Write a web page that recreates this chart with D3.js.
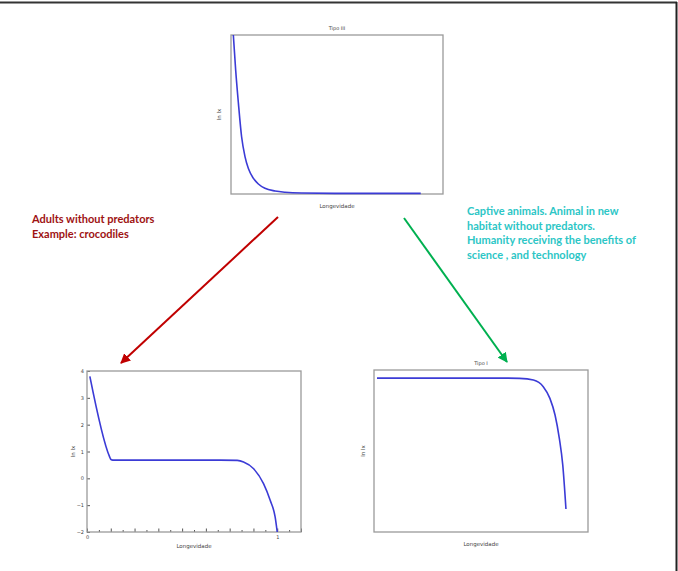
<!DOCTYPE html>
<html>
<head>
<meta charset="utf-8">
<script src="https://cdn.jsdelivr.net/npm/d3@7"></script>
<style>
  body { margin: 0; background: #fff; }
  svg { display: block; }
  .small { font-family: "DejaVu Sans", sans-serif; fill: #444; }
  .note { font-family: Lato, "Open Sans", sans-serif; font-weight: bold; }
</style>
</head>
<body>
<svg width="678" height="571"></svg>
<script>
// Tipo III (top)
var tipo3X = [0.011, 0.022, 0.035, 0.050, 0.066, 0.082, 0.105, 0.129, 0.160, 0.208, 0.255, 0.333, 0.553, 0.895];
var tipo3Y = [1.0, 0.78, 0.57, 0.36, 0.235, 0.16, 0.10, 0.063, 0.036, 0.019, 0.011, 0.006, 0.004, 0.004];

// bottom left, ln lx against longevidade
var tipo2X = [0.015, 0.118, 0.126, 0.135, 0.3, 0.5, 0.7, 0.79, 0.823, 0.876, 0.928, 0.963, 0.989, 1.0];
var tipo2Y = [3.8, 0.82, 0.7, 0.68, 0.68, 0.68, 0.68, 0.67, 0.61, 0.36, -0.2, -0.82, -1.44, -2.0];
var tipo2YTicks = [4, 3, 2, 1, 0, -1, -2];
var tipo2XLabels = [0, 1];

// Tipo I (bottom right)
var tipo1X = [0.014, 0.3, 0.6, 0.68, 0.745, 0.791, 0.822, 0.846, 0.866, 0.882, 0.897];
var tipo1Y = [0.95, 0.95, 0.95, 0.948, 0.938, 0.897, 0.825, 0.722, 0.578, 0.414, 0.142];

var redLines = ["Adults without predators", "Example: crocodiles"];
var cyanLines = ["Captive animals. Animal in new", "habitat without predators.",
                 "Humanity receiving the benefits of", "science , and technology"];

var svg = d3.select("svg");

// page frame (only top and right edges show)
svg.append("line").attr("x1", 0).attr("x2", 677).attr("y1", 2.5).attr("y2", 2.5)
   .attr("stroke", "#333").attr("stroke-width", 2);
svg.append("line").attr("x1", 676.5).attr("x2", 676.5).attr("y1", 2).attr("y2", 571)
   .attr("stroke", "#222").attr("stroke-width", 2);

var lineColor = "#3b3bd6";

function panel(box, xs, ys, xDom, yDom, opts) {
  var x = d3.scaleLinear().domain(xDom).range([box.x0, box.x1]);
  var y = d3.scaleLinear().domain(yDom).range([box.y1, box.y0]);
  var g = svg.append("g");

  if (opts.ticks) {
    // bottom axis with minor ticks, longer every 1/8
    var xt = d3.range(0, 19).map(function(i) { return i / 16; });
    g.append("g").attr("transform", "translate(0," + box.y1 + ")")
      .call(d3.axisBottom(x).tickValues(xt).tickSize(-2.5)
        .tickFormat(function(d) { return tipo2XLabels.indexOf(d) >= 0 ? d3.format("d")(d) : ""; }))
      .call(function(a) {
        a.select(".domain").remove();
        a.selectAll("line").attr("stroke", "#555")
          .attr("y2", function(d) { return Math.round(d * 16) % 2 === 0 ? -3.5 : -2; });
        a.selectAll("text").attr("class", "small").attr("font-size", 5).attr("fill", "#444");
      });
    g.append("g").attr("transform", "translate(" + box.x0 + ",0)")
      .call(d3.axisLeft(y).tickValues(tipo2YTicks).tickSize(-3).tickFormat(d3.format("d")))
      .call(function(a) {
        a.select(".domain").remove();
        a.selectAll("line").attr("stroke", "#555");
        a.selectAll("text").attr("class", "small").attr("font-size", 5).attr("fill", "#444");
      });
  }

  g.append("rect").attr("x", box.x0).attr("y", box.y0)
    .attr("width", box.x1 - box.x0).attr("height", box.y1 - box.y0)
    .attr("fill", "none").attr("stroke", "#9a9a9a").attr("stroke-width", 1.3);

  var pts = xs.map(function(v, i) { return [v, ys[i]]; });
  g.append("path").datum(pts)
    .attr("d", d3.line().x(function(d) { return x(d[0]); }).y(function(d) { return y(d[1]); })
      .curve(d3.curveMonotoneX))
    .attr("fill", "none").attr("stroke", lineColor).attr("stroke-width", 1.6);

  if (opts.title) {
    g.append("text").attr("class", "small").attr("x", (box.x0 + box.x1) / 2).attr("y", box.y0 - 5)
      .attr("text-anchor", "middle").attr("font-size", 5).text(opts.title);
  }
  g.append("text").attr("class", "small").attr("x", (box.x0 + box.x1) / 2).attr("y", box.y1 + opts.xlabGap)
    .attr("text-anchor", "middle").attr("font-size", 5.5).text("Longevidade");
  g.append("text").attr("class", "small")
    .attr("transform", "translate(" + (box.x0 - opts.ylabGap) + "," + ((box.y0 + box.y1) / 2) + ") rotate(-90)")
    .attr("text-anchor", "middle").attr("font-size", 5.5).text("ln lx");
}

panel({x0: 231, x1: 443, y0: 35, y1: 194}, tipo3X, tipo3Y, [0, 1], [0, 1],
      {title: "Tipo III", xlabGap: 14, ylabGap: 10});
panel({x0: 87, x1: 301, y0: 371, y1: 532}, tipo2X, tipo2Y, [0, 1.125], [-2, 4],
      {ticks: true, xlabGap: 16, ylabGap: 12});
panel({x0: 374, x1: 588, y0: 370, y1: 532}, tipo1X, tipo1Y, [0, 1], [0, 1],
      {title: "Tipo I", xlabGap: 14, ylabGap: 9});

// arrows
var defs = svg.append("defs");
function arrowHead(id, color) {
  defs.append("marker").attr("id", id).attr("viewBox", "0 0 10 10")
    .attr("refX", 9).attr("refY", 5).attr("markerWidth", 5).attr("markerHeight", 5)
    .attr("markerUnits", "strokeWidth").attr("orient", "auto")
    .append("path").attr("d", "M0,0 L10,5 L0,10 z").attr("fill", color);
}
arrowHead("redHead", "#c00000");
arrowHead("greenHead", "#00b050");

svg.append("line").attr("x1", 278).attr("y1", 217).attr("x2", 121).attr("y2", 363)
  .attr("stroke", "#c00000").attr("stroke-width", 2).attr("marker-end", "url(#redHead)");
svg.append("line").attr("x1", 404).attr("y1", 218).attr("x2", 507).attr("y2", 362)
  .attr("stroke", "#00b050").attr("stroke-width", 2).attr("marker-end", "url(#greenHead)");

// notes
svg.append("g").selectAll("text").data(redLines).join("text")
  .attr("class", "note").attr("x", 32).attr("y", function(d, i) { return 223 + i * 14.5; })
  .attr("font-size", 11).attr("fill", "#9e1212").text(function(d) { return d; });

svg.append("g").selectAll("text").data(cyanLines).join("text")
  .attr("class", "note").attr("x", 467).attr("y", function(d, i) { return 215 + i * 14.7; })
  .attr("font-size", 11).attr("fill", "#2cc6c6").text(function(d) { return d; });
</script>
</body>
</html>
